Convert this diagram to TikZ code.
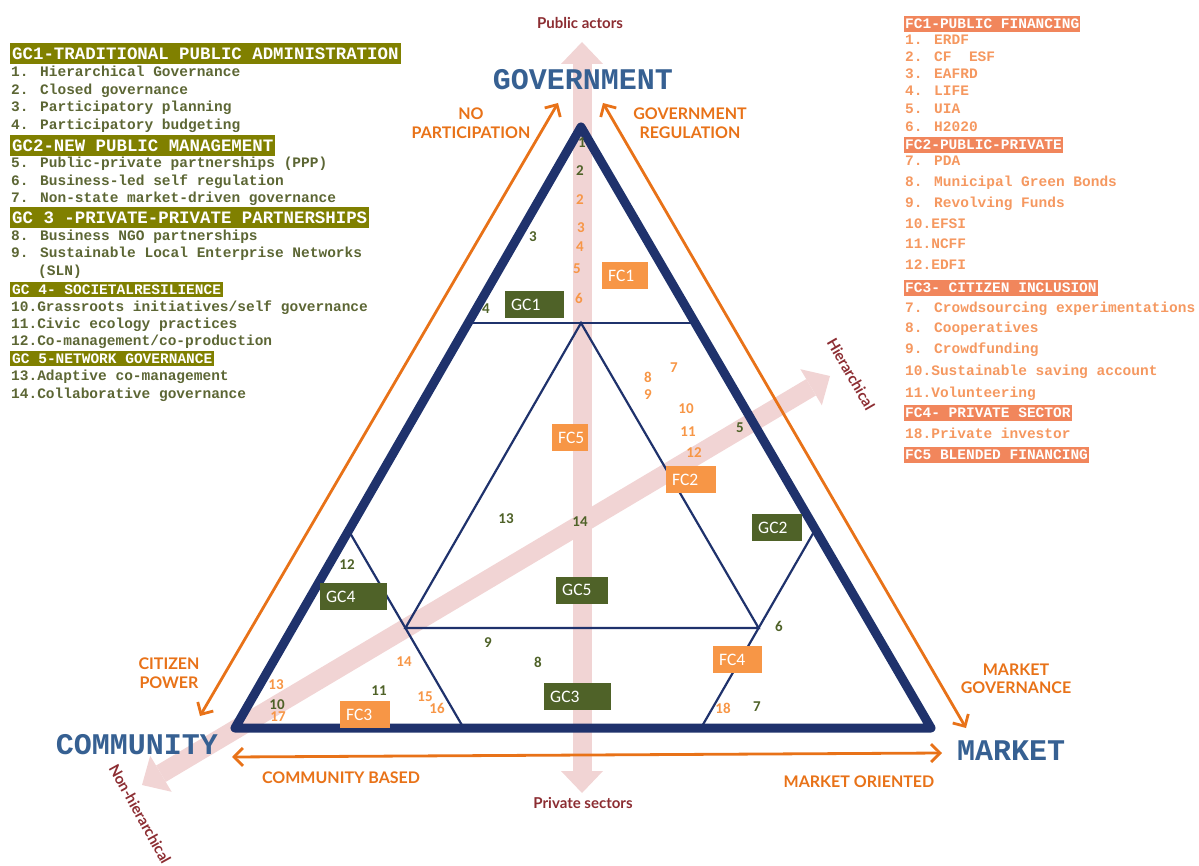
\documentclass[tikz,border=0pt]{standalone}
\usepackage{fontspec}
\setmainfont{Carlito}
\newfontfamily\legendfont{Liberation Mono}
\newfontfamily\labelfont{Lato}
\usetikzlibrary{arrows.meta}

\definecolor{navy}{RGB}{31,50,108}
\definecolor{axispink}{RGB}{241,212,212}
\definecolor{dirorange}{RGB}{232,114,24}
\definecolor{poleblue}{RGB}{54,96,146}
\definecolor{axisred}{RGB}{140,45,50}
\definecolor{gcgreen}{RGB}{79,98,40}
\definecolor{fcorange}{RGB}{247,150,70}
\definecolor{gcheadcol}{RGB}{128,128,0}
\definecolor{gcitemcol}{RGB}{92,102,52}
\definecolor{fcheadcol}{RGB}{241,134,92}
\definecolor{fcitemcol}{RGB}{245,152,96}

\begin{document}
\begin{tikzpicture}[x=1pt,y=-1pt,
    axisarrow/.style={draw=axispink,line width=19pt,
        {Triangle[width=42pt,length=22pt,line width=0pt]}-{Triangle[width=42pt,length=22pt,line width=0pt]}},
    dirarrow/.style={draw=dirorange,line width=2.8pt,
        {Straight Barb[length=9pt,width=18pt]}-{Straight Barb[length=9pt,width=18pt]}},
    outerframe/.style={draw=navy,line width=9pt,line join=round},
    subline/.style={draw=navy,line width=2.2pt},
    gcbox/.style={fill=gcgreen,text=white,font=\fontsize{17.5}{18}\selectfont,
        inner xsep=6pt,inner ysep=0pt,minimum height=27pt,text width=#1,align=left},
    fcbox/.style={gcbox=#1,fill=fcorange},
    gnum/.style={text=gcgreen,font=\bfseries\fontsize{15}{15}\selectfont,inner sep=0pt},
    onum/.style={gnum,text=fcorange},
    pole/.style={text=poleblue,font=\legendfont\bfseries\fontsize{30}{30}\selectfont,inner sep=0pt},
    dirlab/.style={text=dirorange,font=\labelfont\bfseries\fontsize{16}{18.5}\selectfont,align=center,inner sep=0pt},
    axislab/.style={text=axisred,font=\labelfont\bfseries\fontsize{15}{15}\selectfont,inner sep=0pt},
    gchead/.style={fill=gcheadcol,text=white,font=\legendfont\bfseries\fontsize{17.4}{17.4}\selectfont,
        inner xsep=2pt,inner ysep=0pt,minimum height=21pt,anchor=west},
    gcheadsmall/.style={gchead,font=\legendfont\bfseries\fontsize{14.5}{15}\selectfont,minimum height=15pt},
    gcitem/.style={text=gcitemcol,font=\legendfont\bfseries\fontsize{14.5}{15}\selectfont,inner sep=0pt,anchor=base west},
    fchead/.style={fill=fcheadcol,text=white,font=\legendfont\bfseries\fontsize{14.5}{15}\selectfont,
        inner xsep=1pt,inner ysep=0pt,minimum height=16pt,anchor=west},
    fcitem/.style={gcitem,text=fcitemcol}]

    \useasboundingbox (0,0) rectangle (1199,866);

    % axes behind everything
    \coordinate (hierLow) at (142,785);
    \coordinate (hierHigh) at (830,376);
    \coordinate (pubTip) at (582,42);
    \coordinate (privTip) at (582,793);
    \draw[axisarrow] (hierLow) -- (hierHigh);
    \draw[axisarrow] (privTip) -- (pubTip);

    \node[axislab] (pubAct) at (580,23) {Public actors};
    \node[axislab] (privSec) at (583,803) {Private sectors};
    \node[axislab,rotate=-60] (hierLab) at (851,374) {Hierarchical};
    \node[axislab,rotate=-61] (nonhierLab) at (140,814) {Non-hierarchical};

    % main triangle
    \coordinate (apex) at (581,127);
    \coordinate (bl) at (235,728);
    \coordinate (br) at (931,728);
    \draw[outerframe] (apex) -- (bl) -- (br) -- cycle;

    % inner divisions
    \coordinate (h1) at (468.2,323);
    \coordinate (h2) at (695.2,323);
    \coordinate (ia) at (581,323);
    \coordinate (il) at (405.4,628);
    \coordinate (ir) at (758.6,628);
    \coordinate (cl) at (348.6,530.5);
    \coordinate (cb) at (463.6,728);
    \coordinate (ml) at (815.4,529.4);
    \coordinate (mb) at (701,728);
    \draw[subline] (h1) -- (h2);
    \draw[subline] (ia) -- (il) -- (ir) -- cycle;
    \draw[subline] (cl) -- (il) -- (cb);
    \draw[subline] (ml) -- (ir) -- (mb);

    % poles and orange arrows
    \node[pole] (gov) at (583,80) {GOVERNMENT};
    \node[pole] (comm) at (137,745) {COMMUNITY};
    \node[pole] (mkt) at (1011,751) {MARKET};

    \coordinate (npLow) at (200,716);
    \coordinate (npHigh) at (558,103);
    \coordinate (grHigh) at (603,103);
    \coordinate (grLow) at (966,728);
    \coordinate (cbLeft) at (232,757);
    \coordinate (cbRight) at (942,753);
    \draw[dirarrow] (npLow) -- (npHigh);
    \draw[dirarrow] (grHigh) -- (grLow);
    \draw[dirarrow] (cbLeft) -- (cbRight);

    \node[dirlab] (noPart) at (471,123) {NO\\PARTICIPATION};
    \node[dirlab] (govReg) at (690,123) {GOVERNMENT\\REGULATION};
    \node[dirlab] (citPow) at (169,673) {CITIZEN\\POWER};
    \node[dirlab] (mktGov) at (1016,679) {MARKET\\GOVERNANCE};
    \node[dirlab] (commBased) at (341,778) {COMMUNITY BASED};
    \node[dirlab] (mktOr) at (859,782) {MARKET ORIENTED};

    % boxes
    \node[gcbox=47pt,anchor=west] (gc1) at (505,305) {GC1};
    \node[fcbox=34pt,anchor=west] (fc1) at (602,275.5) {FC1};
    \node[fcbox=24pt,anchor=west] (fc5) at (552,437.5) {FC5};
    \node[fcbox=38pt,anchor=west] (fc2) at (666,479.5) {FC2};
    \node[gcbox=38pt,anchor=west] (gc2) at (752,527.5) {GC2};
    \node[gcbox=40pt,anchor=west] (gc5) at (556,590) {GC5};
    \node[gcbox=55pt,anchor=west] (gc4) at (320,596.5) {GC4};
    \node[fcbox=38pt,anchor=west] (fc3) at (340,714.5) {FC3};
    \node[gcbox=55pt,anchor=west] (gc3) at (544,696.5) {GC3};
    \node[fcbox=37pt,anchor=west] (fc4) at (713,659.5) {FC4};

    % governance numbers
    \node[gnum] (g1) at (582,143) {1};
    \node[gnum] (g2) at (580,171) {2};
    \node[gnum] (g3) at (533,237) {3};
    \node[gnum] (g4) at (486,309) {4};
    \node[gnum] (g5) at (740,428) {5};
    \node[gnum] (g6) at (779,626) {6};
    \node[gnum] (g7) at (757,707) {7};
    \node[gnum] (g8) at (538,662) {8};
    \node[gnum] (g9) at (488,643) {9};
    \node[gnum] (g10) at (277,705) {10};
    \node[gnum] (g11) at (379,691) {11};
    \node[gnum] (g12) at (347,565) {12};
    \node[gnum] (g13) at (506,519) {13};
    \node[gnum] (g14) at (580,522) {14};

    % financing numbers
    \node[onum] (o2) at (580,200) {2};
    \node[onum] (o3) at (581,228) {3};
    \node[onum] (o4) at (580,247) {4};
    \node[onum] (o5) at (577,269) {5};
    \node[onum] (o6) at (579,298) {6};
    \node[onum] (o7) at (674,368) {7};
    \node[onum] (o8) at (648,377) {8};
    \node[onum] (o9) at (648,395) {9};
    \node[onum] (o10) at (686,409) {10};
    \node[onum] (o11) at (688,432) {11};
    \node[onum] (o12) at (694,453) {12};
    \node[onum] (o13) at (276,685) {13};
    \node[onum] (o14) at (404,662) {14};
    \node[onum] (o15) at (425,697) {15};
    \node[onum] (o16) at (437,708) {16};
    \node[onum] (o17) at (278,717) {17};
    \node[onum] (o18) at (723,708) {18};

    % governance legend
    \node[gchead] (gch1) at (10,54) {GC1-TRADITIONAL PUBLIC ADMINISTRATION};
    \node[gcitem] (gci1) at (11,77) {1. Hierarchical Governance};
    \node[gcitem] (gci2) at (11,95) {2. Closed governance};
    \node[gcitem] (gci3) at (11,112) {3. Participatory planning};
    \node[gcitem] (gci4) at (11,130) {4. Participatory budgeting};
    \node[gchead] (gch2) at (10,146) {GC2-NEW PUBLIC MANAGEMENT};
    \node[gcitem] (gci5) at (11,168) {5. Public-private partnerships (PPP)};
    \node[gcitem] (gci6) at (11,186) {6. Business-led self regulation};
    \node[gcitem] (gci7) at (11,203) {7. Non-state market-driven governance};
    \node[gchead] (gch3) at (10,218) {GC 3 -PRIVATE-PRIVATE PARTNERSHIPS};
    \node[gcitem] (gci8) at (11,241) {8. Business NGO partnerships};
    \node[gcitem] (gci9) at (11,258) {9. Sustainable Local Enterprise Networks};
    \node[gcitem] (gci9b) at (38,276) {(SLN)};
    \node[gcheadsmall] (gch4) at (10,290) {GC 4- SOCIETALRESILIENCE};
    \node[gcitem] (gci10) at (11,312) {10.Grassroots initiatives/self governance};
    \node[gcitem] (gci11) at (11,329) {11.Civic ecology practices};
    \node[gcitem] (gci12) at (11,346) {12.Co-management/co-production};
    \node[gcheadsmall] (gch5) at (10,359) {GC 5-NETWORK GOVERNANCE};
    \node[gcitem] (gci13) at (11,381) {13.Adaptive co-management};
    \node[gcitem] (gci14) at (11,398) {14.Collaborative governance};

    % financing legend
    \node[fchead] (fch1) at (904,24) {FC1-PUBLIC FINANCING};
    \node[fcitem] (fci1) at (905,45) {1. ERDF};
    \node[fcitem] (fci2) at (905,62) {2. CF\ \ ESF};
    \node[fcitem] (fci3) at (905,79) {3. EAFRD};
    \node[fcitem] (fci4) at (905,96) {4. LIFE};
    \node[fcitem] (fci5) at (905,114) {5. UIA};
    \node[fcitem] (fci6) at (905,132) {6. H2020};
    \node[fchead] (fch2) at (904,145) {FC2-PUBLIC-PRIVATE};
    \node[fcitem] (fci7) at (905,166) {7. PDA};
    \node[fcitem] (fci8) at (905,187) {8. Municipal Green Bonds};
    \node[fcitem] (fci9) at (905,208) {9. Revolving Funds};
    \node[fcitem] (fci10) at (905,229) {10.EFSI};
    \node[fcitem] (fci11) at (905,249) {11.NCFF};
    \node[fcitem] (fci12) at (905,270) {12.EDFI};
    \node[fchead] (fch3) at (904,288) {FC3- CITIZEN INCLUSION};
    \node[fcitem] (fci13) at (905,313) {7. Crowdsourcing experimentations};
    \node[fcitem] (fci14) at (905,333) {8. Cooperatives};
    \node[fcitem] (fci15) at (905,354) {9. Crowdfunding};
    \node[fcitem] (fci16) at (905,376) {10.Sustainable saving account};
    \node[fcitem] (fci17) at (905,397) {11.Volunteering};
    \node[fchead] (fch4) at (904,413) {FC4- PRIVATE SECTOR};
    \node[fcitem] (fci18) at (905,438) {18.Private investor};
    \node[fchead] (fch5) at (904,455) {FC5 BLENDED FINANCING};
\end{tikzpicture}
\end{document}
